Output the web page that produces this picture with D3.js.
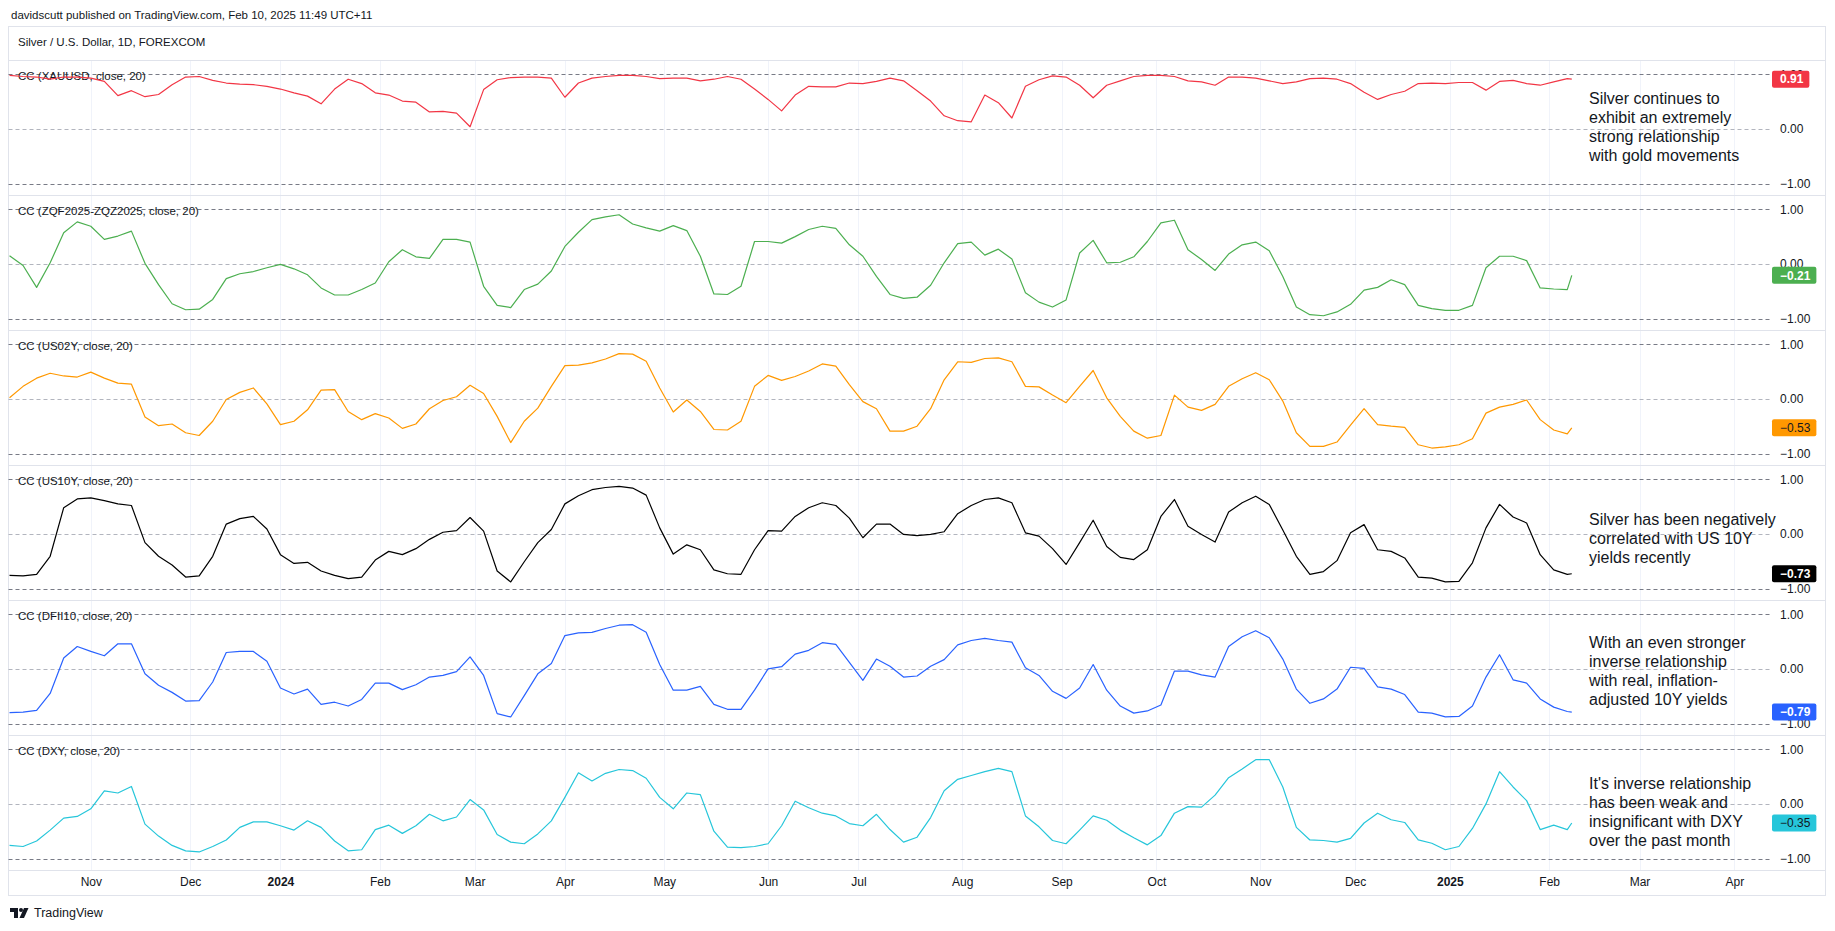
<!DOCTYPE html>
<html>
<head>
<meta charset="utf-8">
<script src="https://cdnjs.cloudflare.com/ajax/libs/d3/7.8.5/d3.min.js"></script>
<style>
  body { margin: 0; background: #fff; }
  svg { display: block; }
  text { font-family: "Liberation Sans", Arial, sans-serif; fill: #131722; }
</style>
</head>
<body>
<script>
// ---- data -------------------------------------------------------------
// one value every 3rd trading day from firstSample, plus the last bar
var firstSample = "2023-10-06",
	lastSample = "2025-02-10",
	sampleStep = 3,
	holidays = ["2023-12-25", "2024-01-01", "2024-03-29", "2024-12-25", "2025-01-01"];

var legendLabels = [
	"CC (XAUUSD, close, 20)",
	"CC (ZQF2025-ZQZ2025, close, 20)",
	"CC (US02Y, close, 20)",
	"CC (US10Y, close, 20)",
	"CC (DFII10, close, 20)",
	"CC (DXY, close, 20)"
];

var xauusd = [0.98, 0.96, 0.95, 0.91, 0.95, 0.95, 0.93, 0.87, 0.61, 0.70,
	0.59, 0.63, 0.81, 0.95, 0.96, 0.89, 0.84, 0.82, 0.81, 0.78,
	0.73, 0.66, 0.60, 0.46, 0.73, 0.91, 0.83, 0.66, 0.62, 0.51,
	0.49, 0.31, 0.32, 0.29, 0.04, 0.72, 0.90, 0.94, 0.95, 0.95,
	0.93, 0.58, 0.84, 0.93, 0.96, 0.98, 0.98, 0.96, 0.92, 0.93,
	0.93, 0.88, 0.91, 0.96, 0.91, 0.73, 0.54, 0.33, 0.62, 0.78,
	0.77, 0.77, 0.84, 0.83, 0.87, 0.93, 0.88, 0.70, 0.51, 0.24,
	0.15, 0.13, 0.62, 0.48, 0.20, 0.78, 0.90, 0.97, 0.95, 0.80,
	0.57, 0.80, 0.88, 0.96, 0.98, 0.98, 0.96, 0.88, 0.86, 0.80,
	0.95, 0.95, 0.93, 0.88, 0.83, 0.86, 0.92, 0.93, 0.91, 0.83,
	0.67, 0.54, 0.63, 0.69, 0.83, 0.84, 0.83, 0.85, 0.85, 0.71,
	0.87, 0.89, 0.83, 0.80, 0.86, 0.92, 0.91];

var zqSpread = [0.15, -0.03, -0.43, 0.02, 0.57, 0.77, 0.69, 0.45, 0.51, 0.60,
	0.01, -0.38, -0.73, -0.84, -0.83, -0.65, -0.27, -0.18, -0.14, -0.07,
	-0.01, -0.09, -0.20, -0.44, -0.57, -0.57, -0.47, -0.35, 0.04, 0.26,
	0.13, 0.10, 0.45, 0.45, 0.40, -0.41, -0.76, -0.80, -0.47, -0.37,
	-0.13, 0.32, 0.58, 0.81, 0.86, 0.90, 0.73, 0.66, 0.60, 0.70,
	0.61, 0.14, -0.55, -0.56, -0.41, 0.41, 0.41, 0.38, 0.50, 0.63,
	0.69, 0.65, 0.35, 0.14, -0.23, -0.56, -0.63, -0.61, -0.39, 0.02,
	0.37, 0.40, 0.16, 0.27, 0.09, -0.53, -0.70, -0.79, -0.66, 0.20,
	0.43, 0.02, 0.03, 0.13, 0.41, 0.75, 0.80, 0.26, 0.08, -0.12,
	0.18, 0.35, 0.40, 0.24, -0.23, -0.79, -0.93, -0.95, -0.88, -0.74,
	-0.48, -0.43, -0.29, -0.38, -0.76, -0.82, -0.85, -0.85, -0.76, -0.07,
	0.14, 0.14, 0.06, -0.44, -0.46, -0.47, -0.21];

var us02y = [0.02, 0.23, 0.38, 0.47, 0.42, 0.40, 0.49, 0.38, 0.29, 0.27,
	-0.33, -0.49, -0.46, -0.62, -0.67, -0.41, -0.01, 0.12, 0.20, -0.09,
	-0.47, -0.41, -0.20, 0.16, 0.17, -0.23, -0.38, -0.27, -0.35, -0.54,
	-0.46, -0.18, -0.03, 0.04, 0.25, 0.10, -0.32, -0.80, -0.41, -0.17,
	0.23, 0.61, 0.62, 0.66, 0.73, 0.83, 0.82, 0.69, 0.20, -0.24,
	-0.02, -0.23, -0.56, -0.57, -0.41, 0.23, 0.43, 0.34, 0.41, 0.51,
	0.64, 0.60, 0.26, -0.05, -0.18, -0.59, -0.59, -0.50, -0.18, 0.35,
	0.68, 0.67, 0.74, 0.75, 0.68, 0.23, 0.22, 0.07, -0.07, 0.23,
	0.52, 0.02, -0.32, -0.59, -0.72, -0.67, 0.07, -0.15, -0.21, -0.10,
	0.23, 0.37, 0.48, 0.35, -0.04, -0.62, -0.87, -0.87, -0.79, -0.48,
	-0.18, -0.47, -0.50, -0.52, -0.84, -0.90, -0.88, -0.84, -0.73, -0.26,
	-0.15, -0.10, -0.02, -0.38, -0.57, -0.64, -0.53];

var us10y = [-0.76, -0.77, -0.74, -0.41, 0.48, 0.64, 0.66, 0.61, 0.55, 0.52,
	-0.16, -0.41, -0.57, -0.79, -0.77, -0.41, 0.18, 0.28, 0.32, 0.09,
	-0.38, -0.54, -0.52, -0.68, -0.76, -0.82, -0.79, -0.48, -0.32, -0.38,
	-0.27, -0.10, 0.03, 0.06, 0.30, 0.05, -0.68, -0.88, -0.51, -0.16,
	0.08, 0.55, 0.70, 0.81, 0.85, 0.87, 0.84, 0.71, 0.11, -0.37,
	-0.20, -0.29, -0.66, -0.73, -0.74, -0.29, 0.06, 0.05, 0.32, 0.48,
	0.57, 0.52, 0.29, -0.07, 0.18, 0.18, -0.01, -0.03, -0.01, 0.04,
	0.37, 0.52, 0.63, 0.66, 0.57, 0.02, -0.04, -0.27, -0.56, -0.16,
	0.25, -0.23, -0.43, -0.47, -0.29, 0.32, 0.63, 0.14, -0.01, -0.15,
	0.40, 0.57, 0.69, 0.54, 0.07, -0.41, -0.74, -0.69, -0.49, 0.02,
	0.17, -0.29, -0.32, -0.44, -0.79, -0.81, -0.88, -0.87, -0.53, 0.11,
	0.54, 0.31, 0.20, -0.38, -0.66, -0.74, -0.73];

var dfii10 = [-0.80, -0.79, -0.76, -0.45, 0.20, 0.41, 0.32, 0.24, 0.46, 0.46,
	-0.09, -0.30, -0.43, -0.59, -0.58, -0.24, 0.30, 0.32, 0.32, 0.14,
	-0.35, -0.46, -0.37, -0.65, -0.61, -0.68, -0.56, -0.26, -0.26, -0.38,
	-0.29, -0.15, -0.12, -0.05, 0.22, -0.12, -0.82, -0.88, -0.49, -0.09,
	0.10, 0.61, 0.66, 0.67, 0.74, 0.80, 0.81, 0.67, 0.08, -0.39,
	-0.39, -0.32, -0.65, -0.74, -0.74, -0.39, 0.00, 0.04, 0.27, 0.34,
	0.48, 0.45, 0.12, -0.21, 0.18, 0.05, -0.15, -0.13, 0.05, 0.17,
	0.44, 0.52, 0.56, 0.52, 0.49, 0.02, -0.12, -0.41, -0.54, -0.35,
	0.08, -0.39, -0.68, -0.81, -0.77, -0.66, -0.04, -0.04, -0.11, -0.15,
	0.41, 0.59, 0.70, 0.57, 0.18, -0.37, -0.63, -0.55, -0.37, 0.03,
	0.01, -0.33, -0.37, -0.47, -0.79, -0.81, -0.88, -0.87, -0.68, -0.15,
	0.26, -0.20, -0.26, -0.55, -0.70, -0.78, -0.79];

var dxy = [-0.76, -0.78, -0.68, -0.48, -0.26, -0.23, -0.09, 0.24, 0.20, 0.32,
	-0.37, -0.59, -0.76, -0.86, -0.88, -0.78, -0.66, -0.43, -0.33, -0.33,
	-0.40, -0.48, -0.31, -0.43, -0.68, -0.86, -0.84, -0.47, -0.39, -0.54,
	-0.40, -0.19, -0.31, -0.24, 0.08, -0.11, -0.56, -0.70, -0.73, -0.55,
	-0.31, 0.12, 0.57, 0.42, 0.56, 0.63, 0.61, 0.47, 0.12, -0.09,
	0.20, 0.17, -0.50, -0.79, -0.80, -0.78, -0.73, -0.40, 0.05, -0.07,
	-0.17, -0.22, -0.36, -0.40, -0.19, -0.47, -0.70, -0.61, -0.25, 0.24,
	0.45, 0.52, 0.59, 0.65, 0.59, -0.22, -0.42, -0.67, -0.73, -0.48,
	-0.22, -0.30, -0.48, -0.62, -0.75, -0.58, -0.17, -0.05, -0.06, 0.16,
	0.48, 0.64, 0.81, 0.81, 0.31, -0.43, -0.66, -0.67, -0.70, -0.63,
	-0.35, -0.17, -0.29, -0.34, -0.66, -0.72, -0.84, -0.78, -0.45, 0.00,
	0.59, 0.31, 0.06, -0.47, -0.39, -0.47, -0.35];

var seriesValues = [xauusd, zqSpread, us02y, us10y, dfii10, dxy];
var seriesColors = ["#f23645", "#4caf50", "#ff9800", "#000000", "#2962ff", "#26c6da"];
var badgeTextColors = ["#fff", "#fff", "#131722", "#fff", "#fff", "#131722"];

var priceTicks = [-1, 0, 1];

var notes = [
	{ pane: 0, dy: 38, lines: ["Silver continues to", "exhibit an extremely", "strong relationship", "with gold movements"] },
	{ pane: 3, dy: 54, lines: ["Silver has been negatively", "correlated with US 10Y", "yields recently"] },
	{ pane: 4, dy: 42, lines: ["With an even stronger", "inverse relationship", "with real, inflation-", "adjusted 10Y yields"] },
	{ pane: 5, dy: 48, lines: ["It's inverse relationship", "has been weak and", "insignificant with DXY", "over the past month"] }
];

// ---- layout -----------------------------------------------------------
var w = 1835,
	h = 931,
	frameLeft = 8.5,
	frameRight = 1825.5,
	plotRight = 1770,
	paneTop = 60,
	paneH = 135,
	axisY = 882;

var svg = d3.select("body")
	.append("svg")
	.attr("width", w)
	.attr("height", h);

// trading calendar (weekdays without the holidays the chart skips)
var fmt = d3.utcFormat("%Y-%m-%d");
var calendar = d3.utcDays(new Date(Date.UTC(2023, 9, 2)), new Date(Date.UTC(2025, 4, 1)))
	.filter(function (d) {
		return d.getUTCDay() % 6 !== 0 && holidays.indexOf(fmt(d)) < 0;
	});
var dayIndex = new Map(calendar.map(function (d, i) { return [fmt(d), i]; }));

var iFirst = dayIndex.get(firstSample),
	iLast = dayIndex.get(lastSample),
	sampleIdx = d3.range(iFirst, iLast, sampleStep).concat([iLast]);

var x = d3.scaleLinear()
	.domain([dayIndex.get("2023-11-01"), dayIndex.get("2025-02-03")])
	.range([90.8, 1549.2]);

var monthStarts = calendar
	.map(function (d, i) { return i; })
	.filter(function (i) {
		return i > 0 && calendar[i].getUTCMonth() !== calendar[i - 1].getUTCMonth();
	})
	.filter(function (i) { return x(i) > 20 && x(i) < plotRight - 10; });

// frame and header
svg.append("text")
	.attr("x", 11).attr("y", 15).attr("dy", "0.35em")
	.style("font-size", "11.5px")
	.text("davidscutt published on TradingView.com, Feb 10, 2025 11:49 UTC+11");

svg.append("rect")
	.attr("x", frameLeft).attr("y", 26.5)
	.attr("width", frameRight - frameLeft).attr("height", 869)
	.attr("fill", "none").attr("stroke", "#e0e3eb");

svg.append("text")
	.attr("x", 18).attr("y", 42).attr("dy", "0.35em")
	.style("font-size", "11.5px")
	.text("Silver / U.S. Dollar, 1D, FOREXCOM");

svg.append("clipPath").attr("id", "plot-clip")
	.append("rect")
	.attr("x", frameLeft + 0.5).attr("y", 0)
	.attr("width", plotRight - frameLeft).attr("height", h);

// vertical month grid
svg.append("g")
	.selectAll("line")
	.data(monthStarts)
	.enter()
	.append("line")
	.attr("x1", function (d) { return Math.round(x(d)) + 0.5; })
	.attr("x2", function (d) { return Math.round(x(d)) + 0.5; })
	.attr("y1", paneTop)
	.attr("y2", paneTop + paneH * 6)
	.attr("stroke", "#f0f3fa");

// separators
svg.append("g")
	.selectAll("line")
	.data(d3.range(7))
	.enter()
	.append("line")
	.attr("x1", frameLeft).attr("x2", frameRight)
	.attr("y1", function (i) { return paneTop + i * paneH + 0.5; })
	.attr("y2", function (i) { return paneTop + i * paneH + 0.5; })
	.attr("stroke", "#e0e3eb");

// panes
seriesValues.forEach(function (values, p) {
	var top = paneTop + p * paneH;
	var y = d3.scaleLinear().domain([-1, 1]).range([top + 123.5, top + 14.3]);
	var pane = svg.append("g");

	pane.selectAll("line.level")
		.data(priceTicks)
		.enter()
		.append("line")
		.attr("x1", frameLeft).attr("x2", plotRight)
		.attr("y1", function (d) { return Math.round(y(d)) + 0.5; })
		.attr("y2", function (d) { return Math.round(y(d)) + 0.5; })
		.attr("stroke", function (d) { return d === 0 ? "#b2b5be" : "#787b86"; })
		.attr("stroke-dasharray", "4,3");

	var axis = d3.axisRight(y)
		.tickValues(priceTicks)
		.tickSize(0)
		.tickPadding(10)
		.tickFormat(d3.format(".2f"));
	pane.append("g")
		.attr("transform", "translate(" + plotRight + ",0)")
		.call(axis)
		.call(function (g) { g.select(".domain").remove(); })
		.selectAll("text")
		.style("font-size", "12px")
		.style("font-family", "'Liberation Sans', Arial, sans-serif")
		.attr("fill", "#2a2e39");

	pane.append("text")
		.attr("x", 18).attr("y", top + 16).attr("dy", "0.35em")
		.style("font-size", "11.5px")
		.text(legendLabels[p]);

	var line = d3.line()
		.x(function (d, i) { return x(sampleIdx[i]); })
		.y(function (d) { return y(d); });

	pane.append("path")
		.datum(values)
		.attr("clip-path", "url(#plot-clip)")
		.attr("fill", "none")
		.attr("stroke", seriesColors[p])
		.attr("stroke-width", 1.2)
		.attr("stroke-linejoin", "round")
		.attr("d", line);

	// last value badge
	var last = values[values.length - 1];
	var badge = pane.append("g");
	var rect = badge.append("rect")
		.attr("x", 1772).attr("y", y(last) - 8.5)
		.attr("height", 17).attr("rx", 2)
		.attr("fill", seriesColors[p]);
	var t = badge.append("text")
		.attr("x", 1780).attr("y", y(last)).attr("dy", "0.35em")
		.style("font-size", "12px")
		.style("font-weight", badgeTextColors[p] === "#fff" ? "bold" : "normal")
		.style("fill", badgeTextColors[p])
		.text(d3.format(".2f")(last));
	rect.attr("width", t.node().getComputedTextLength() + 14);
});

// annotations
notes.forEach(function (n) {
	var top = paneTop + n.pane * paneH;
	svg.append("g")
		.selectAll("text")
		.data(n.lines)
		.enter()
		.append("text")
		.attr("x", 1589)
		.attr("y", function (d, i) { return top + n.dy + i * 19; })
		.attr("dy", "0.35em")
		.style("font-size", "16px")
		.text(function (d) { return d; });
});

// time axis
var timeAxis = d3.axisBottom(x)
	.tickValues(monthStarts)
	.tickSize(0)
	.tickPadding(0)
	.tickFormat(function (i) {
		var d = calendar[i];
		return d.getUTCMonth() === 0 ? d3.utcFormat("%Y")(d) : d3.utcFormat("%b")(d);
	});
svg.append("g")
	.attr("transform", "translate(0," + axisY + ")")
	.call(timeAxis)
	.call(function (g) { g.select(".domain").remove(); })
	.selectAll("text")
	.attr("dy", "0.35em")
	.style("font-size", "12px")
	.style("font-family", "'Liberation Sans', Arial, sans-serif")
	.style("font-weight", function (i) { return calendar[i].getUTCMonth() === 0 ? "bold" : "normal"; })
	.attr("fill", "#131722");

// TradingView mark
var logo = svg.append("g").attr("fill", "#131722");
logo.append("path").attr("d", "M10,908 h8 v10 h-4 v-6 h-4 z");
logo.append("circle").attr("cx", 21).attr("cy", 910).attr("r", 2);
logo.append("path").attr("d", "M24,908 h4.5 l-4.5,10 h-4.5 z");
svg.append("text")
	.attr("x", 34).attr("y", 913).attr("dy", "0.35em")
	.style("font-size", "12.5px")
	.text("TradingView");
</script>
</body>
</html>
